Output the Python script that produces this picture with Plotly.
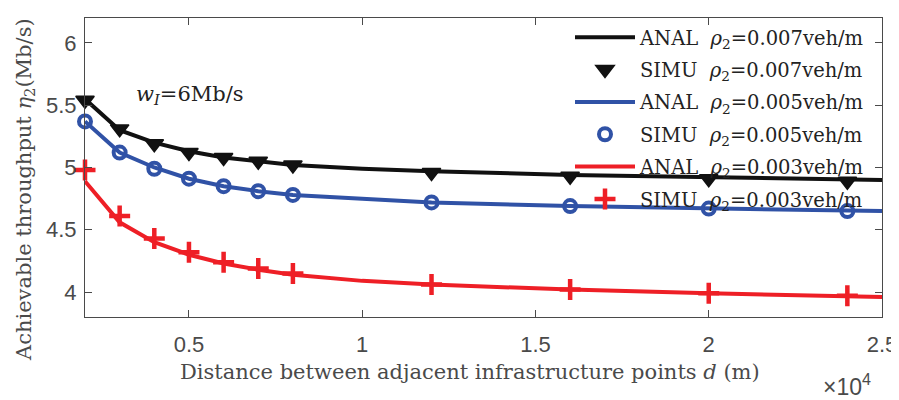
import plotly.graph_objects as go

# ---- data ----
d_sim = [2000, 3000, 4000, 5000, 6000, 7000, 8000, 12000, 16000, 20000, 24000]
simu_007 = [5.54, 5.31, 5.19, 5.12, 5.08, 5.05, 5.02, 4.96, 4.93, 4.91, 4.89]
simu_005 = [5.37, 5.12, 4.99, 4.91, 4.85, 4.81, 4.78, 4.72, 4.69, 4.67, 4.65]
simu_003 = [4.98, 4.61, 4.43, 4.32, 4.24, 4.19, 4.15, 4.06, 4.02, 3.99, 3.97]

d_anal = [2000, 3000, 4000, 5000, 6000, 7000, 8000, 10000, 12000, 16000, 20000, 25000]
anal_007 = [5.55, 5.30, 5.20, 5.13, 5.08, 5.05, 5.02, 4.99, 4.97, 4.94, 4.92, 4.90]
anal_005 = [5.37, 5.12, 5.00, 4.91, 4.85, 4.81, 4.78, 4.75, 4.72, 4.69, 4.67, 4.65]
anal_003 = [4.89, 4.56, 4.40, 4.30, 4.23, 4.18, 4.14, 4.09, 4.06, 4.02, 3.99, 3.96]

x_ticks = [5000, 10000, 15000, 20000, 25000]
x_tick_labels = ["0.5", "1", "1.5", "2", "2.5"]
y_ticks = [4, 4.5, 5, 5.5, 6]
y_tick_labels = ["4", "4.5", "5", "5.5", "6"]

BLACK = "#111111"
BLUE = "#3052a6"
RED = "#ee1f26"
SERIF = "DejaVu Serif, Liberation Serif, serif"
SANS = "Liberation Sans, Arial, sans-serif"
AX = "#4a4a4a"

# the page has an 8px body margin, compensate in the figure margins
ML, MR, MT, MB = 77, 25, 10, 91
W, H = 899, 400
PW, PH = W - ML - MR, H - MT - MB

def px(xp):   # page x pixel -> paper x
    return (xp - 8 - ML) / PW

def py(yp):   # page y pixel -> paper y
    return 1 - (yp - 8 - MT) / PH

def lab(kind, rho):
    return f"{kind}&nbsp;&nbsp;<i>ρ</i><sub>2</sub>={rho}veh/m"

fig = go.Figure()
series = [
    (anal_007, simu_007, BLACK, "0.007", dict(symbol="triangle-down", size=16, color=BLACK,
                                               line=dict(width=1.5, color=BLACK))),
    (anal_005, simu_005, BLUE, "0.005", dict(symbol="circle-open", size=12, color=BLUE,
                                              line=dict(width=4, color=BLUE))),
    (anal_003, simu_003, RED, "0.003", dict(symbol="cross-thin", size=15, color=RED,
                                             line=dict(width=4.5, color=RED))),
]
for i, (anal, simu, col, rho, mk) in enumerate(series):
    fig.add_trace(go.Scatter(x=d_anal, y=anal, mode="lines", name=lab("ANAL", rho),
                             legendgroup=f"a{i}", line=dict(color=col, width=4)))
    fig.add_trace(go.Scatter(x=d_sim, y=simu, mode="markers", name=lab("SIMU", rho),
                             legendgroup=f"s{i}", marker=mk, cliponaxis=False))

fig.add_annotation(x=3400, y=5.58, xref="x", yref="y", xanchor="left", yanchor="middle",
                   text="<i>w</i><sub><i>I</i></sub>=6Mb/s", showarrow=False,
                   font=dict(family=SERIF, size=21, color="#222222"))
fig.add_annotation(x=px(847), y=py(385), xref="paper", yref="paper",
                   xanchor="center", yanchor="middle",
                   showarrow=False, text="×10<sup>4</sup>",
                   font=dict(family=SANS, size=23, color=AX))
# axis titles placed as rotated / horizontal annotations to match the reference offsets
fig.add_annotation(x=px(25), y=py(190), xref="paper", yref="paper", showarrow=False,
                   xanchor="center", yanchor="middle",
                   textangle=-90, text="Achievable throughput <i>η</i><sub>2</sub>(Mb/s)",
                   font=dict(family=SERIF, size=21, color=AX))
fig.add_annotation(x=px(470), y=py(372), xref="paper", yref="paper", showarrow=False,
                   xanchor="center", yanchor="middle",
                   text="Distance between adjacent infrastructure points <i>d</i> (m)",
                   font=dict(family=SERIF, size=21, color=AX))

fig.update_layout(
    width=W, height=H,
    margin=dict(l=ML, r=MR, t=MT, b=MB, autoexpand=False),
    paper_bgcolor="white", plot_bgcolor="white",
    showlegend=True,
    legend=dict(x=1.0 - 12 / PW, xanchor="right", y=1.0, yanchor="top",
                bgcolor="rgba(0,0,0,0)", traceorder="grouped",
                font=dict(family=SERIF, size=19.5, color="#222222"), borderwidth=0,
                tracegroupgap=4, itemwidth=60),
)
fig.update_xaxes(
    range=[2000, 25000], tickvals=x_ticks, ticktext=x_tick_labels, automargin=False,
    ticks="inside", ticklen=7, tickcolor=AX, showline=True, linecolor=AX, linewidth=1,
    mirror="ticks", showgrid=False, zeroline=False,
    tickfont=dict(family=SANS, size=22, color=AX), ticklabelstandoff=8,
)
fig.update_yaxes(
    range=[3.8, 6.2], tickvals=y_ticks, ticktext=y_tick_labels, automargin=False,
    ticks="inside", ticklen=7, tickcolor=AX, showline=True, linecolor=AX, linewidth=1,
    mirror="ticks", showgrid=False, zeroline=False,
    tickfont=dict(family=SANS, size=22, color=AX), ticklabelstandoff=3,
)

fig.write_html("out.html")
